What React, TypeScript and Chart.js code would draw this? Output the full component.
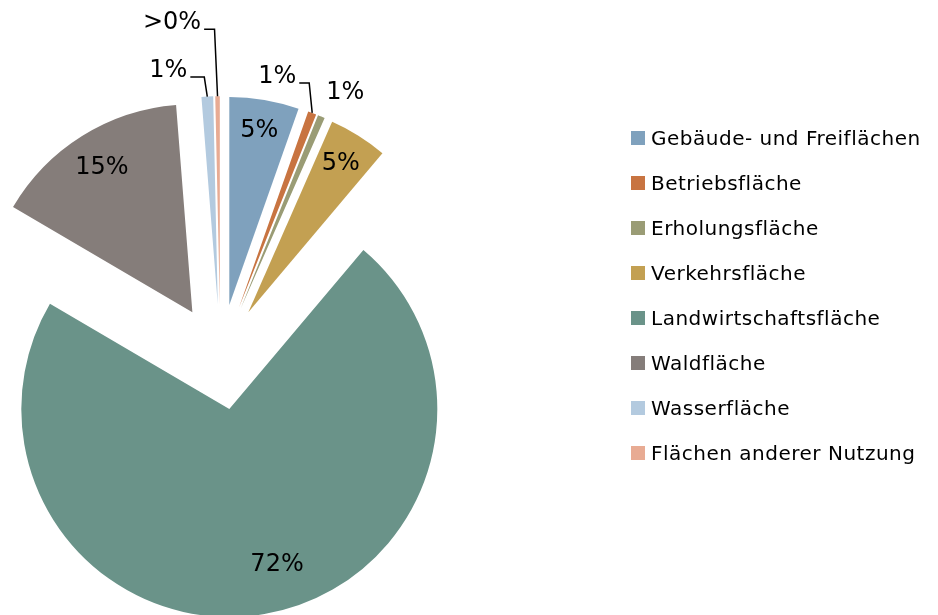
import React, { useEffect, useRef } from 'react';
import { Chart, registerables } from 'chart.js';

Chart.register(...registerables);

// ---- data ----
const categories = [
  'Gebäude- und Freiflächen',
  'Betriebsfläche',
  'Erholungsfläche',
  'Verkehrsfläche',
  'Landwirtschaftsfläche',
  'Waldfläche',
  'Wasserfläche',
  'Flächen anderer Nutzung',
];
const shares = [5.4, 0.65, 0.55, 4.55, 72.3, 15.3, 0.9, 0.35];
const labelTexts = ['5%', '1%', '1%', '5%', '72%', '15%', '1%', '>0%'];
const colors = ['#7fa1bd', '#c87441', '#9a9c75', '#c3a052', '#6a9389', '#857d7a', '#b3cadf', '#e8ab93'];

// ---- styling / layout ----
const W = 938;
const H = 615;
const FONT = '"DejaVu Sans", sans-serif';
const EXPLODE = 52.8;
const RADIUS = 208;
// label placement: inside -> [radial fraction, angle shift deg]; outside -> [dx, dy from outer mid point, leader]
const labelMode = ['in', 'out', 'out', 'in', 'in', 'in', 'out', 'out'];
const insidePos: Record<number, [number, number]> = {
  0: [0.85, 0],
  3: [0.84, 0],
  4: [0.784, -7.3],
  5: [0.82, 0],
};
const outsidePos: Record<number, [number, number, boolean]> = {
  1: [-35, -36, true],
  2: [24, -23.5, false],
  6: [-39, -25.5, true],
  7: [-45.5, -73, true],
};

const explodePlugin = {
  id: 'explodeSlices',
  beforeDatasetDraw(chart: any, args: any) {
    const meta = chart.getDatasetMeta(args.index);
    const ctx = chart.ctx;
    meta.data.forEach((arc: any) => {
      const mid = (arc.startAngle + arc.endAngle) / 2;
      ctx.save();
      ctx.translate(Math.cos(mid) * EXPLODE, Math.sin(mid) * EXPLODE);
      arc.draw(ctx);
      ctx.restore();
    });
    return false;
  },
};

const labelPlugin = {
  id: 'sliceLabels',
  afterDatasetsDraw(chart: any) {
    const meta = chart.getDatasetMeta(0);
    const ctx = chart.ctx;
    ctx.save();
    ctx.font = `24px ${FONT}`;
    ctx.fillStyle = '#000';
    ctx.textAlign = 'center';
    ctx.textBaseline = 'middle';
    meta.data.forEach((arc: any, i: number) => {
      const mid = (arc.startAngle + arc.endAngle) / 2;
      const vx = arc.x + Math.cos(mid) * EXPLODE;
      const vy = arc.y + Math.sin(mid) * EXPLODE;
      const R = arc.outerRadius;
      const text = labelTexts[i];
      if (labelMode[i] === 'in') {
        const [f, shift] = insidePos[i];
        const a = mid + (shift * Math.PI) / 180;
        ctx.fillText(text, vx + Math.cos(a) * R * f, vy + Math.sin(a) * R * f);
      } else {
        const [dx, dy, leader] = outsidePos[i];
        const px = vx + Math.cos(mid) * R;
        const py = vy + Math.sin(mid) * R;
        const tx = px + dx;
        const ty = py + dy;
        ctx.fillText(text, tx, ty);
        if (leader) {
          const w = ctx.measureText(text).width;
          const ly = ty + 6;
          ctx.beginPath();
          ctx.strokeStyle = '#000';
          ctx.lineWidth = 1.5;
          ctx.moveTo(tx + w / 2 + 3, ly);
          ctx.lineTo(px - 3, ly);
          ctx.lineTo(px, py);
          ctx.stroke();
        }
      }
    });
    ctx.restore();
  },
};

export default function App() {
  const ref = useRef<HTMLCanvasElement | null>(null);

  useEffect(() => {
    if (!ref.current) return;
    const cx = 220.4;
    const cy = 357;
    const chart = new Chart(ref.current, {
      type: 'pie',
      data: {
        labels: categories,
        datasets: [
          {
            data: shares,
            backgroundColor: colors,
            borderWidth: 0,
          },
        ],
      },
      options: {
        responsive: false,
        animation: false,
        events: [],
        radius: RADIUS,
        layout: {
          padding: {
            left: 0,
            right: W - 2 * cx,
            top: cy - RADIUS,
            bottom: H - (cy + RADIUS),
          },
        },
        plugins: {
          legend: { display: false },
          tooltip: { enabled: false },
        },
      } as any,
      plugins: [explodePlugin, labelPlugin],
    });
    return () => chart.destroy();
  }, []);

  return (
    <div style={{ position: 'absolute', left: 0, top: 0, width: W, height: H, background: '#fff', overflow: 'hidden' }}>
      <canvas ref={ref} width={W} height={H} style={{ position: 'absolute', left: 0, top: 0, width: W, height: H }} />
      {categories.map((c, i) => (
        <div
          key={c}
          style={{
            position: 'absolute',
            left: 631,
            top: 138.2 + 45 * i - 15,
            height: 30,
            display: 'flex',
            alignItems: 'center',
            whiteSpace: 'nowrap',
            fontFamily: FONT,
            fontSize: 20,
            letterSpacing: '0.5px',
            lineHeight: '30px',
            color: '#000',
          }}
        >
          <span style={{ display: 'inline-block', width: 14, height: 14, background: colors[i], marginRight: 6 }} />
          <span>{c}</span>
        </div>
      ))}
    </div>
  );
}
